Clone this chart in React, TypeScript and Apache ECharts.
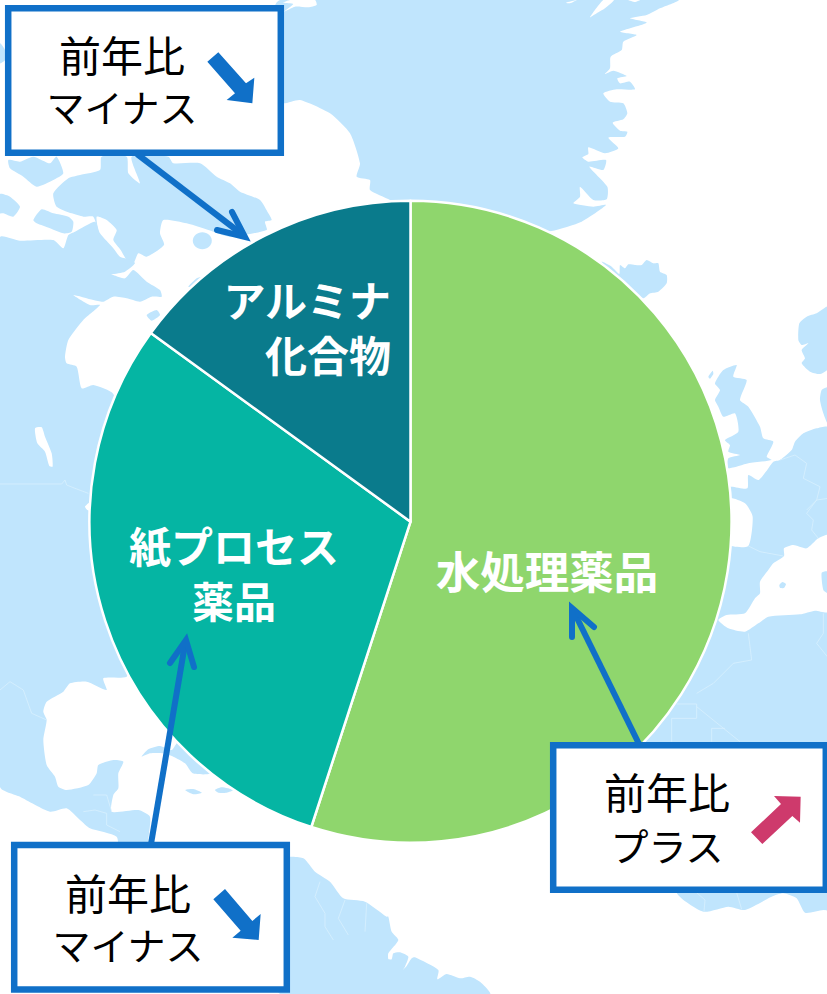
import React, { useEffect, useRef } from "react";
import * as echarts from "echarts";

// ---- chart data ----
const categories = ["水処理薬品", "紙プロセス\n薬品", "アルミナ\n化合物"];
const shareValues = [55, 30, 15];
const sliceColors = ["#8FD66D", "#05B5A3", "#0A7B8C"];
const labelCentres = [
  [547, 569],
  [234, 572],
  [391, 326],
];
const labelAligns = ["center", "center", "right"];
const labelSizes = [44.5, 42, 42];
const calloutTitle = "前年比";
const calloutTexts = ["マイナス", "マイナス", "プラス"];

// ---- colours ----
const LAND = "#C0E5FD";
const BORDER = "#D8F0FE";
const BLUE = "#1070C8";
const PINK = "#CE3A6C";
const FONT = '"Noto Sans CJK JP", "Noto Sans", sans-serif';

type P = number[];
const at = (ox: number, oy: number) => (pts: P[]) =>
  pts.map(([x, y]) => [ox + x / 3, oy + y / 3]);
const z1 = at(0, 0);
const z2 = at(420, 0);
const z3 = at(0, 320);
const z4 = at(660, 300);
const z5 = at(0, 640);
const z6 = at(500, 600);
const z7 = at(380, 860);
const z8 = at(700, 560);

// ---- backdrop map outlines ----
const landShapes: P[][] = [
  // Greenland
  [
    ...z1([[852, 310], [900, 300], [990, 340], [1050, 400], [1080, 490], [1070, 530], [1110, 540], [1110, 570], [1170, 600], [1235, 640]]),
    ...z2([[300, 700], [395, 693], [485, 665], [558, 615], [520, 620], [460, 610], [480, 590], [480, 560], [520, 600], [560, 598], [562, 560], [508, 500], [550, 510], [558, 480], [505, 485], [487, 472], [505, 462], [505, 442], [555, 460], [595, 445], [565, 413], [615, 410], [622, 395], [600, 392], [578, 368], [610, 358], [622, 340], [610, 310], [570, 305], [550, 280], [590, 268], [645, 268], [630, 245], [600, 250], [592, 235], [620, 228], [580, 212], [555, 222], [570, 205], [572, 170], [605, 150], [610, 125], [650, 105], [600, 95], [680, 68], [630, 55], [680, 45], [720, 25], [775, 0]]),
    ...z1([[840, 0], [840, 300]]),
  ],
  // Arctic islands
  z1([[25, 480], [60, 485], [100, 470], [150, 490], [170, 470], [190, 520], [160, 540], [110, 560], [70, 530], [30, 505]]),
  z1([[160, 580], [205, 535], [240, 525], [300, 510], [305, 470], [380, 470], [385, 520], [420, 550], [395, 470], [505, 470], [520, 490], [600, 490], [650, 530], [690, 550], [720, 575], [780, 600], [805, 640], [815, 660], [795, 665], [800, 690], [690, 710], [640, 695], [560, 670], [490, 660], [480, 700], [492, 735], [440, 770], [415, 760], [400, 790], [380, 780], [362, 750], [340, 720], [350, 690], [320, 660], [290, 650], [295, 695], [280, 650], [250, 650], [215, 640], [170, 620]]),
  z1([[0, 582], [30, 590], [60, 620], [40, 650], [10, 640], [0, 640]]),
  z1([[0, 130], [15, 150], [15, 180], [0, 190]]),
  z1([[100, 660], [125, 628], [160, 640], [205, 650], [220, 665], [215, 695], [190, 700], [150, 685], [110, 670]]),
  z1([[440, 945], [470, 930], [480, 945], [455, 962]]),
  z1([[565, 860], [590, 835], [610, 830], [580, 860]]),
  // North and Central America
  [
    ...z1([[0, 712], [60, 722], [160, 720], [190, 745], [205, 705], [225, 695], [285, 665], [300, 700], [340, 745], [360, 770], [395, 780], [405, 790], [375, 815], [330, 822], [305, 808], [340, 825], [375, 835], [400, 810], [440, 845], [480, 870], [485, 890], [455, 890], [420, 905], [380, 895], [340, 890], [310, 905], [280, 900], [220, 885], [270, 915], [300, 915], [250, 960], [205, 1020]]),
    ...z3([[195, 110], [200, 130], [230, 140], [245, 205], [280, 195], [340, 222], [400, 400], [400, 800]]),
    ...z5([[450, 30], [400, 60], [380, 110], [310, 115], [320, 150], [260, 125], [210, 130], [190, 155], [140, 185], [130, 215], [140, 240], [130, 300], [140, 375], [165, 410], [175, 440], [200, 450], [265, 435], [290, 400], [295, 375], [340, 360], [370, 365], [355, 400], [355, 445], [340, 465], [335, 515], [415, 510], [450, 530], [445, 600], [445, 640], [360, 640], [350, 590], [270, 565], [240, 540], [200, 505], [150, 515], [60, 470], [0, 440]]),
  ],
  // Caribbean
  z5([[425, 350], [445, 328], [480, 318], [515, 330], [540, 300], [640, 395], [620, 403], [578, 400], [555, 370], [520, 350], [490, 340], [450, 340]]),
  z5([[645, 450], [665, 442], [700, 450], [680, 458], [655, 458]]),
  z5([[555, 450], [580, 447], [605, 458], [580, 463]]),
  // South America
  [
    ...z5([[860, 655], [910, 655], [945, 695], [990, 725], [1030, 775], [1095, 785], [1160, 830]]),
    ...z7([[25, 170], [35, 215], [55, 240], [25, 280], [25, 297], [35, 298], [40, 280], [60, 277], [85, 290], [75, 320], [68, 330], [80, 318], [95, 295], [105, 292], [175, 330], [172, 358], [200, 342], [240, 355], [270, 350], [300, 365], [330, 402]]),
    [280, 994],
  ],
  // Iceland
  z2([[545, 785], [575, 800], [598, 822], [600, 795], [615, 805], [625, 793], [645, 795], [665, 795], [680, 780], [700, 790], [715, 790], [720, 815], [740, 825], [740, 850], [715, 875], [690, 880], [670, 895], [600, 850]]),
  // Britain
  z4([[190, 210], [230, 195], [220, 230], [260, 240], [240, 300], [265, 320], [300, 380], [310, 415], [340, 425], [320, 470], [335, 480], [265, 490], [205, 505], [205, 475], [240, 465], [205, 455], [210, 435], [195, 420], [235, 395], [225, 340], [190, 350], [175, 320], [165, 300], [180, 270], [165, 250]]),
  z4([[145, 230], [158, 212], [160, 222], [150, 236]]),
  // Scandinavia
  z4([[505, 20], [470, 40], [440, 50], [418, 70], [415, 120], [425, 135], [445, 130], [425, 150], [435, 175], [425, 190], [450, 215], [480, 222], [505, 205]]),
  z4([[505, 262], [485, 270], [480, 300], [490, 340], [505, 375]]),
  // Europe and Africa
  [
    ...z4([[505, 382], [470, 385], [430, 400], [405, 425], [395, 450], [360, 480], [340, 485], [320, 512], [295, 540], [265, 525], [262, 565], [215, 560], [150, 560]]),
    [640, 700],
    [640, 770],
    ...z7([[890, 98], [970, 155], [1045, 140], [1095, 150], [1175, 110], [1210, 100], [1250, 115], [1275, 158], [1330, 150], [1350, 150]]),
    [830, 770],
  ],
];

const waterShapes: P[][] = [
  // Bay of Biscay
  z4([[205, 595], [255, 610], [278, 650], [265, 738], [205, 733]]),
  // Mediterranean
  [
    ...z8([[55, 180], [80, 165], [135, 160], [165, 115], [180, 100], [180, 65], [205, 30]]),
    ...z4([[340, 790], [372, 768], [372, 745], [400, 735], [440, 745], [475, 715], [510, 705]]),
    ...z8([[385, 155], [345, 152], [300, 163], [205, 170], [175, 190], [135, 215], [85, 205]]),
  ],
  // Lake and fjords
  z3([[105, 325], [125, 322], [135, 350], [155, 400], [158, 440], [148, 438], [135, 395], [112, 370]]),
  z3([[255, 560], [268, 548], [272, 572], [262, 570]]),
  z1([[852, 35], [880, 12], [850, 8], [870, 0], [945, 0], [950, 15], [925, 22], [885, 20]]),
  z2([[510, 52], [550, 0], [582, 0], [555, 25], [530, 40]]),
  z2([[438, 8], [470, 0], [450, 10]]),
  z2([[625, 0], [660, 0], [645, 6]]),
];

const landOverWater: P[][] = [
  z8([[365, 38], [385, 35], [385, 100], [370, 90]]),
  z8([[238, 75], [247, 66], [258, 72], [252, 84], [240, 83]]),
];

const borderLines: P[][] = [
  z3([[0, 492], [185, 492], [195, 480], [200, 495], [225, 505], [265, 520]]),
  z5([[0, 150], [30, 125], [70, 150], [95, 220], [140, 240]]),
  z5([[280, 465], [320, 465], [335, 515]]),
  z5([[250, 515], [285, 510], [320, 520], [320, 555], [360, 575]]),
  z5([[960, 725], [945, 770], [975, 820], [975, 860], [1000, 900]]),
  z5([[1035, 780], [1015, 835], [1045, 885]]),
  z5([[1100, 790], [1095, 875]]),
  z4([[265, 738], [300, 755], [370, 768]]),
  z4([[360, 480], [405, 465], [440, 490], [430, 535], [480, 560], [470, 600], [440, 640], [460, 660], [455, 690], [475, 715]]),
  z4([[440, 630], [470, 600], [505, 595]]),
  z6([[590, 280], [640, 250], [700, 190], [755, 180], [745, 100]]),
  z6([[590, 320], [720, 425]]),
  z6([[515, 425], [515, 355], [590, 355], [590, 312], [530, 312]]),
  z6([[635, 425], [635, 385], [675, 385]]),
  z6([[970, 40], [970, 100], [950, 130], [990, 180]]),
  z7([[950, 98], [975, 120], [972, 155]]),
  z7([[1070, 98], [1085, 148]]),
];

const mapEllipses = [
  { cx: 202.3, cy: 240.7, rx: 9.5, ry: 8.5, fill: LAND },
  { cx: 312, cy: 861, rx: 3, ry: 2.5, fill: "#ffffff" },
];

// ---- callouts ----
const calloutBoxes = [
  { x: 8.2, y: 8.2, w: 272.6, h: 144.5, tx: 122, y1: 53, y2: 105, size2: 38 },
  { x: 14.2, y: 845, w: 272.6, h: 144.5, tx: 128, y1: 891, y2: 943, size2: 38 },
  { x: 553.2, y: 745.2, w: 272.6, h: 144.5, tx: 667, y1: 790, y2: 844, size2: 38 },
];
const connectors: P[][] = [
  [[137, 154], [243, 235]],
  [[151, 844], [185, 644]],
  [[639, 744], [574, 612]],
];
const connectorHeads: P[][] = [
  [[217, 230], [245, 237], [232, 212]],
  [[170, 663], [186, 640], [194, 667]],
  [[572, 637], [572, 608], [594, 627]],
];
const blockArrows: { pts: P[]; fill: string }[] = [
  { pts: z1([[622, 185], [655, 157], [738, 250], [763, 233], [757, 310], [680, 300], [705, 280]]), fill: BLUE },
  { pts: z5([[640, 778], [675, 747], [757, 843], [782, 822], [776, 900], [697, 893], [722, 872]]), fill: BLUE },
  { pts: z6([[753, 697], [843, 612], [822, 588], [902, 590], [900, 668], [877, 648], [787, 732]]), fill: PINK },
];

const poly = (points: P[], fill: string, z: number, smooth = 0.2) => ({
  type: "polygon",
  silent: true,
  z,
  shape: { points, smooth },
  style: { fill },
});

const boxText = (text: string, x: number, y: number, size: number) => ({
  type: "text",
  silent: true,
  z: 13,
  x,
  y,
  style: {
    text,
    fill: "#000000",
    font: `400 ${size}px ${FONT}`,
    align: "center",
    verticalAlign: "middle",
  },
});

export default function App() {
  const ref = useRef<HTMLDivElement>(null);
  useEffect(() => {
    document.body.style.margin = "0";
    const chart = echarts.init(ref.current!, undefined, { renderer: "svg" });
    const elements: any[] = [
      ...landShapes.map((p) => poly(p, LAND, 0)),
      ...waterShapes.map((p) => poly(p, "#ffffff", 1)),
      ...landOverWater.map((p) => poly(p, LAND, 1)),
      ...mapEllipses.map((e) => ({
        type: "ellipse",
        silent: true,
        z: 1,
        shape: { cx: e.cx, cy: e.cy, rx: e.rx, ry: e.ry },
        style: { fill: e.fill },
      })),
      ...borderLines.map((points) => ({
        type: "polyline",
        silent: true,
        z: 1,
        shape: { points },
        style: { stroke: BORDER, lineWidth: 0.8, fill: "none" },
      })),
      ...connectors.map((points) => ({
        type: "polyline",
        silent: true,
        z: 10,
        shape: { points },
        style: { stroke: BLUE, lineWidth: 6, lineCap: "butt", fill: "none" },
      })),
      ...connectorHeads.map((points) => ({
        type: "polyline",
        silent: true,
        z: 10,
        shape: { points },
        style: { stroke: BLUE, lineWidth: 6, lineCap: "round", lineJoin: "miter", miterLimit: 10, fill: "none" },
      })),
      ...calloutBoxes.map((b) => ({
        type: "rect",
        silent: true,
        z: 11,
        shape: { x: b.x, y: b.y, width: b.w, height: b.h },
        style: { fill: "#ffffff", stroke: BLUE, lineWidth: 6.5 },
      })),
      ...blockArrows.map((a) => poly(a.pts, a.fill, 12, 0)),
      ...calloutBoxes.flatMap((b, i) => [
        boxText(calloutTitle, b.tx, b.y1, 42),
        boxText(calloutTexts[i], b.tx, b.y2, b.size2),
      ]),
    ];
    chart.setOption({
      animation: false,
      backgroundColor: "#ffffff",
      graphic: { elements },
      series: [
        {
          type: "pie",
          z: 5,
          center: [410.5, 521.7],
          radius: [0, 321],
          startAngle: 90,
          clockwise: true,
          silent: true,
          itemStyle: { borderColor: "#ffffff", borderWidth: 2.5 },
          label: {
            show: true,
            position: "inside",
            color: "#ffffff",
            fontFamily: FONT,
            fontWeight: 700,
            lineHeight: 55,
            verticalAlign: "middle",
          },
          labelLine: { show: false },
          labelLayout: (params: any) => ({
            x: labelCentres[params.dataIndex][0],
            y: labelCentres[params.dataIndex][1],
            align: labelAligns[params.dataIndex],
            verticalAlign: "middle",
          }),
          data: categories.map((name, i) => ({
            name,
            value: shareValues[i],
            itemStyle: { color: sliceColors[i] },
            label: { fontSize: labelSizes[i], align: labelAligns[i] },
          })),
        },
      ],
    });
    return () => chart.dispose();
  }, []);
  return <div ref={ref} style={{ width: 827, height: 994 }} />;
}
